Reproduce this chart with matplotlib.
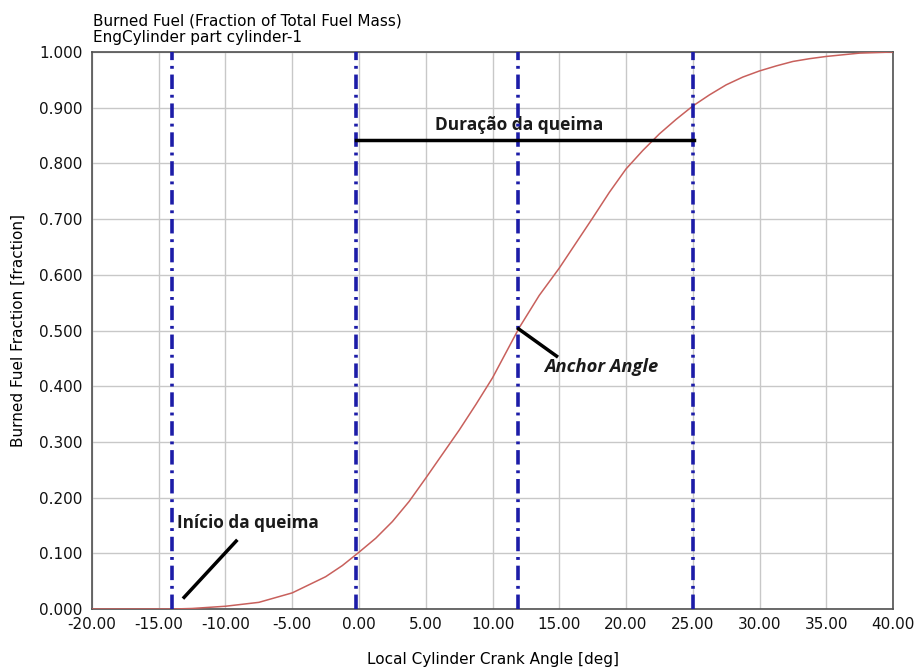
import numpy as np
import matplotlib
matplotlib.use("Agg")
import matplotlib.pyplot as plt

# fracao de combustivel queimado vs angulo do virabrequim
crank = [-20.0, -17.5, -15.0, -14.0, -12.5, -10.0, -7.5, -5.0, -2.5, -1.25,
         0.0, 1.25, 2.5, 3.75, 5.0, 7.5, 8.75, 10.0, 12.0, 13.5,
         15.0, 16.25, 17.5, 18.75, 20.0, 21.25, 22.5, 23.75, 25.0, 26.25,
         27.5, 28.75, 30.0, 31.25, 32.5, 33.75, 35.0, 37.5, 40.0]
burned = [0.0, 0.0, 0.0, 0.0, 0.001, 0.005, 0.012, 0.029, 0.058, 0.078,
          0.102, 0.127, 0.157, 0.193, 0.235, 0.321, 0.367, 0.415, 0.505, 0.563,
          0.612, 0.657, 0.702, 0.748, 0.790, 0.823, 0.853, 0.879, 0.903, 0.923,
          0.941, 0.955, 0.966, 0.975, 0.983, 0.988, 0.992, 0.998, 1.000]

# linhas verticais: inicio, 0, anchor angle, fim
marcas = [-14.0, -0.2, 11.9, 25.0]
duracao_y = 0.842
duracao_x = [-0.2, 25.1]

xticks = np.arange(-20, 40.1, 5)
yticks = np.arange(0, 1.01, 0.1)

plt.rcParams['font.family'] = ['DejaVu Sans']

fig = plt.figure(figsize=(9.18, 6.70), dpi=100)
ax = fig.add_axes([0.1002, 0.091, 0.8726, 0.8314])

ax.set_xlim(-20, 40)
ax.set_ylim(0, 1)
ax.set_xticks(xticks)
ax.set_yticks(yticks)
ax.set_xticklabels(['%.2f' % v for v in xticks])
ax.set_yticklabels(['%.3f' % v for v in yticks])
ax.tick_params(length=0, labelsize=11, colors='#111111')
ax.tick_params(axis='y', pad=7)
ax.tick_params(axis='x', pad=6)
ax.grid(True, color='#c8c8c8', lw=1)
ax.set_axisbelow(True)
for s in ax.spines.values():
    s.set_color('#505050')
    s.set_linewidth(1.2)

ax.plot(crank, burned, color='#c8605c', lw=1.1, zorder=3)

for xv in marcas:
    ax.axvline(xv, color='#1c1ca8', lw=2.6, ls=(0, (4, 1.6, 0.8, 1.6)), zorder=4)

ax.plot(duracao_x, [duracao_y, duracao_y], color='black', lw=2.5, zorder=5)

anot = dict(family=['Open Sans', 'DejaVu Sans'], fontweight='bold', color='#1a1a1a')
ax.text(12.0, 0.869, 'Duração da queima', ha='center', va='center', fontsize=12.5, **anot)
ax.text(-13.6, 0.155, 'Início da queima', ha='left', va='center', fontsize=12.3, **anot)
ax.text(13.9, 0.434, 'Anchor Angle', ha='left', va='center', style='italic', fontsize=13.2, **anot)

ax.plot([-13.1, -9.2], [0.021, 0.122], color='black', lw=2.5, zorder=5)
ax.plot([11.95, 14.8], [0.503, 0.454], color='black', lw=2.5, zorder=5)

fig.text(0.1013, 1 - 26 / 670, 'Burned Fuel (Fraction of Total Fuel Mass)', fontsize=11, va='baseline', ha='left')
fig.text(0.1013, 1 - 42 / 670, 'EngCylinder part cylinder-1', fontsize=11, va='baseline', ha='left')

ax.set_xlabel('Local Cylinder Crank Angle [deg]', fontsize=11, labelpad=14)
ax.set_ylabel('Burned Fuel Fraction [fraction]', fontsize=11, labelpad=9)

fig.savefig('out.png', dpi=100)
